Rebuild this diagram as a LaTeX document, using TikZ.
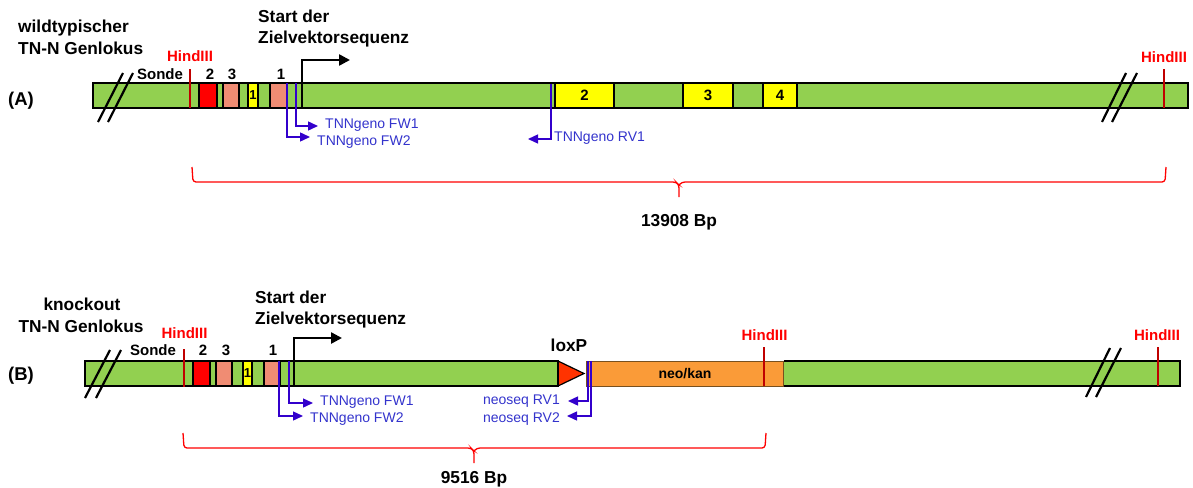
\documentclass[tikz,border=0pt]{standalone}
\usepackage{fontspec}
\setmainfont{Liberation Sans}
\usetikzlibrary{arrows.meta}
\definecolor{barGreen}{RGB}{146,208,80}
\definecolor{exRed}{RGB}{255,0,0}
\definecolor{exPink}{RGB}{240,140,115}
\definecolor{exYellow}{RGB}{255,255,0}
\definecolor{hindLine}{RGB}{192,0,0}
\definecolor{hindText}{RGB}{255,0,0}
\definecolor{primBlue}{RGB}{51,0,204}
\definecolor{primText}{RGB}{51,51,204}
\definecolor{neoOrange}{RGB}{250,155,56}
\definecolor{neoEdge}{RGB}{120,80,30}
\definecolor{loxRed}{RGB}{255,51,0}
\tikzset{
  bigbold/.style={font=\fontsize{17.3}{19}\selectfont\bfseries, inner sep=0pt},
  midbold/.style={font=\fontsize{15}{17}\selectfont\bfseries, inner sep=0pt},
  panel/.style={font=\fontsize{18.5}{20}\selectfont\bfseries, inner sep=0pt},
  hindlabel/.style={font=\fontsize{15}{17}\selectfont\bfseries, text=hindText, inner sep=0pt, anchor=base},
  primlabel/.style={font=\fontsize{14}{16}\selectfont, text=primText, inner sep=0pt},
  bar/.style={draw=black, fill=barGreen, line width=1.8pt, minimum height=25pt, inner sep=0pt},
  exon/.style={draw=black, line width=1.3pt, minimum height=25pt, inner sep=0pt, font=\fontsize{15}{17}\selectfont\bfseries},
  hind/.style={draw=hindLine, line width=2.5pt},
  primer/.style={draw=primBlue, line width=1.4pt, -{Triangle[length=10pt,width=9pt]}},
  startarrow/.style={draw=black, line width=2.5pt, -{Triangle[length=11pt,width=11pt]}},
  slash/.style={draw=black, line width=2.2pt},
  brace/.style={draw=red, line width=1.3pt, rounded corners=3pt},
}
\begin{document}
\begin{tikzpicture}[x=1pt,y=-1pt]
\useasboundingbox (0,0) rectangle (1193,487);

% ================= (A) =================
\node[panel] (pA) at (21,101) {(A)};
\node[bigbold, anchor=base west] (tA1) at (18,33) {wildtypischer};
\node[bigbold, anchor=base west] (tA2) at (18,55) {TN-N Genlokus};
\node[bigbold, anchor=base west] (sA1) at (258,23) {Start der};
\node[bigbold, anchor=base west] (sA2) at (258,44) {Zielvektorsequenz};

\node[bar, minimum width=1095pt] (barA) at (640.5,95.5) {};

\node[exon, fill=exRed, minimum width=18pt] (eA2) at (208,95.5) {};
\node[exon, fill=exPink, minimum width=16pt] (eA3) at (231,95.5) {};
\node[exon, fill=exYellow, minimum width=10pt, font=\fontsize{13}{15}\selectfont\bfseries] (eA1y) at (253,95.5) {\raisebox{-3pt}{1}};
\node[exon, fill=exPink, minimum width=17pt] (eA1) at (278.5,95.5) {};
\node[exon, fill=exYellow, minimum width=59pt] (yA2) at (584.5,95.5) {2};
\node[exon, fill=exYellow, minimum width=50pt] (yA3) at (708,95.5) {3};
\node[exon, fill=exYellow, minimum width=34pt] (yA4) at (780,95.5) {4};

\node[midbold, anchor=base] (sondeA) at (160,79) {Sonde};
\node[midbold, anchor=base] (nA2) at (210,79) {2};
\node[midbold, anchor=base] (nA3) at (232,79) {3};
\node[midbold, anchor=base] (nA1) at (281,79) {1};

% HindIII
\coordinate (hA1t) at (190,69); \coordinate (hA1b) at (190,108);
\draw[hind] (hA1t) -- (hA1b);
\node[hindlabel] (lhA1) at (190,62) {HindIII};
\coordinate (hA2t) at (1164,69); \coordinate (hA2b) at (1164,108);
\draw[hind] (hA2t) -- (hA2b);
\node[hindlabel] (lhA2) at (1164,63) {HindIII};

% slashes
\coordinate (sl1a) at (98,122); \coordinate (sl1b) at (123,73);
\coordinate (sl2a) at (108,122); \coordinate (sl2b) at (133,73);
\draw[slash] (sl1a) -- (sl1b); \draw[slash] (sl2a) -- (sl2b);
\coordinate (sl3a) at (1102,122); \coordinate (sl3b) at (1126,73);
\coordinate (sl4a) at (1112,122); \coordinate (sl4b) at (1137,73);
\draw[slash] (sl3a) -- (sl3b); \draw[slash] (sl4a) -- (sl4b);

% start arrow
\coordinate (stA0) at (302,108); \coordinate (stA1) at (350,60);
\draw[startarrow] (stA0) |- (stA1);

% primers
\coordinate (pfw2A) at (287,83); \coordinate (pfw2Ae) at (310,137);
\coordinate (pfw1A) at (296,83); \coordinate (pfw1Ae) at (318,126);
\coordinate (prv1A) at (551,84); \coordinate (prv1Ae) at (528,139);
\draw[primer] (pfw2A) |- (pfw2Ae);
\draw[primer] (pfw1A) |- (pfw1Ae);
\draw[primer] (prv1A) |- (prv1Ae);
\node[primlabel, anchor=west] (lfw1A) at (325,125) {TNNgeno FW1};
\node[primlabel, anchor=west] (lfw2A) at (317,142) {TNNgeno FW2};
\node[primlabel, anchor=west] (lrv1A) at (554,138) {TNNgeno RV1};

% brace A
\coordinate (bA1) at (192,167); \coordinate (bA2) at (679,197); \coordinate (bA3) at (1166,167);
\draw[brace] (bA1) -- (193,182) -- (676,182) -- (679,185) -- (bA2);
\draw[brace] (679,185) -- (682,182) -- (1165,182) -- (bA3);
\node[bigbold, anchor=base] (lenA) at (679,226) {13908 Bp};

% ================= (B) =================
\node[panel] (pB) at (21,376) {(B)};
\node[bigbold, anchor=base] (tB1) at (82,310) {knockout};
\node[bigbold, anchor=base] (tB2) at (81,332) {TN-N Genlokus};
\node[bigbold, anchor=base west] (sB1) at (255,303) {Start der};
\node[bigbold, anchor=base west] (sB2) at (255,324) {Zielvektorsequenz};

\node[bar, minimum width=473pt] (barB1) at (321.5,373.5) {};
\node[draw=neoEdge, fill=neoOrange, line width=1pt, minimum width=198pt, minimum height=25pt, inner sep=0pt, font=\fontsize{14}{16}\selectfont\bfseries] (neo) at (685,373.5) {neo/kan};
\node[fill=barGreen, minimum width=396pt, minimum height=25pt, inner sep=0pt] (barB2) at (982,373.5) {};
\draw[line width=1.8pt] (barB2.north west) -- (barB2.north east) -- (barB2.south east) -- (barB2.south west);
\draw[draw=neoEdge, line width=1pt] (barB2.north west) -- (barB2.south west);
\coordinate (loxA) at (558,361); \coordinate (loxB) at (584,373.5); \coordinate (loxC) at (558,386);
\draw[fill=loxRed, draw=black, line width=1.2pt] (loxA) -- (loxB) -- (loxC) -- cycle;
\draw[line width=2.2pt] (loxA) -- (loxC);
\node[bigbold, anchor=base] (loxlab) at (569,351) {loxP};

\node[exon, fill=exRed, minimum width=17pt] (eB2) at (201.5,373.5) {};
\node[exon, fill=exPink, minimum width=16pt] (eB3) at (224,373.5) {};
\node[exon, fill=exYellow, minimum width=9pt, font=\fontsize{13}{15}\selectfont\bfseries] (eB1y) at (247.5,373.5) {\raisebox{-3pt}{1}};
\node[exon, fill=exPink, minimum width=16pt] (eB1) at (272,373.5) {};

\node[midbold, anchor=base] (sondeB) at (153,355) {Sonde};
\node[midbold, anchor=base] (nB2) at (203,355) {2};
\node[midbold, anchor=base] (nB3) at (226,355) {3};
\node[midbold, anchor=base] (nB1) at (273,355) {1};

% HindIII
\coordinate (hB1t) at (184,349); \coordinate (hB1b) at (184,387);
\draw[hind] (hB1t) -- (hB1b);
\node[hindlabel] (lhB1) at (184.5,338) {HindIII};
\coordinate (hB2t) at (764,347); \coordinate (hB2b) at (764,386);
\draw[hind] (hB2t) -- (hB2b);
\node[hindlabel] (lhB2) at (764.5,340) {HindIII};
\coordinate (hB3t) at (1158,347); \coordinate (hB3b) at (1158,386);
\draw[hind] (hB3t) -- (hB3b);
\node[hindlabel] (lhB3) at (1157,340) {HindIII};

% slashes
\coordinate (sl5a) at (85,398); \coordinate (sl5b) at (110,350);
\coordinate (sl6a) at (96,398); \coordinate (sl6b) at (121,350);
\draw[slash] (sl5a) -- (sl5b); \draw[slash] (sl6a) -- (sl6b);
\coordinate (sl7a) at (1086,397); \coordinate (sl7b) at (1110,348);
\coordinate (sl8a) at (1096,397); \coordinate (sl8b) at (1121,348);
\draw[slash] (sl7a) -- (sl7b); \draw[slash] (sl8a) -- (sl8b);

% start arrow
\coordinate (stB0) at (294,386); \coordinate (stB1) at (342,338);
\draw[startarrow] (stB0) |- (stB1);

% primers
\coordinate (pfw2B) at (279,361); \coordinate (pfw2Be) at (303,416);
\coordinate (pfw1B) at (289,361); \coordinate (pfw1Be) at (313,403);
\coordinate (prn1B) at (588,361); \coordinate (prn1Be) at (568,401);
\coordinate (prn2B) at (591,361); \coordinate (prn2Be) at (567,416);
\draw[primer] (pfw2B) |- (pfw2Be);
\draw[primer] (pfw1B) |- (pfw1Be);
\draw[primer] (prn1B) |- (prn1Be);
\draw[primer] (prn2B) |- (prn2Be);
\node[primlabel, anchor=west] (lfw1B) at (320,402) {TNNgeno FW1};
\node[primlabel, anchor=west] (lfw2B) at (310,419) {TNNgeno FW2};
\node[primlabel, anchor=east] (lrn1B) at (560,401) {neoseq RV1};
\node[primlabel, anchor=east] (lrn2B) at (560,419) {neoseq RV2};

% brace B
\coordinate (bB1) at (183,433); \coordinate (bB2) at (474,463); \coordinate (bB3) at (766,433);
\draw[brace] (bB1) -- (184,448) -- (471,448) -- (474,451) -- (bB2);
\draw[brace] (474,451) -- (477,448) -- (765,448) -- (bB3);
\node[bigbold, anchor=base] (lenB) at (474,483) {9516 Bp};
\end{tikzpicture}
\end{document}
